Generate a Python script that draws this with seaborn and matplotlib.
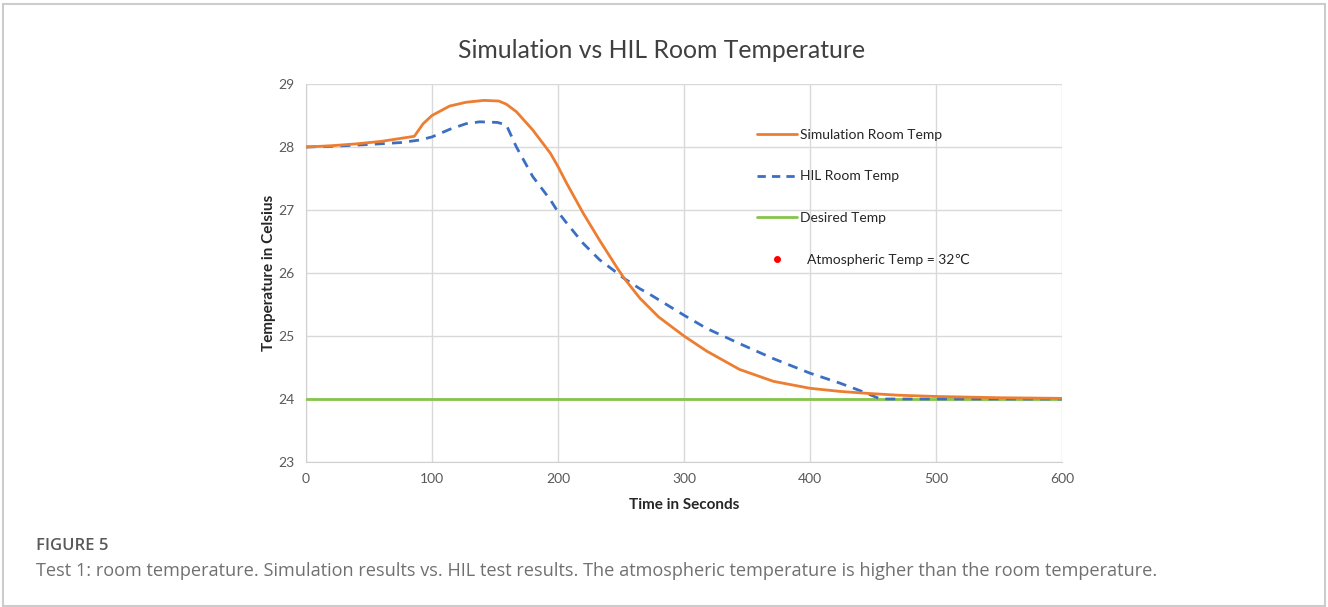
import matplotlib
matplotlib.use("Agg")
import matplotlib.pyplot as plt
import seaborn as sns
import pandas as pd
from matplotlib.lines import Line2D
from matplotlib.patches import Rectangle

# ------------------------------
# Data
# ------------------------------
sim_time = [0, 20, 40, 60, 86, 93, 100, 114, 127, 141, 153, 159, 167, 180, 194, 200, 207,
            220, 233, 247, 252, 265, 280, 300, 318, 344, 371, 400, 424, 445, 470, 500, 550, 600]
sim_temp = [28.0, 28.02, 28.05, 28.09, 28.17, 28.37, 28.5, 28.65, 28.71, 28.74, 28.73, 28.68,
            28.56, 28.27, 27.9, 27.69, 27.42, 26.95, 26.52, 26.08, 25.93, 25.6, 25.3, 25.0,
            24.76, 24.47, 24.28, 24.17, 24.12, 24.09, 24.06, 24.04, 24.02, 24.01]

hil_time = [0, 20, 50, 75, 90, 100, 114, 127, 138, 152, 159, 167, 180, 194, 200, 207, 220,
            233, 247, 252, 265, 273, 300, 318, 344, 371, 400, 424, 440, 456, 500, 600]
hil_temp = [28.0, 28.01, 28.04, 28.07, 28.11, 28.16, 28.28, 28.37, 28.4, 28.39, 28.35, 28.0,
            27.53, 27.16, 26.97, 26.79, 26.47, 26.21, 26.0, 25.92, 25.75, 25.66, 25.33, 25.12,
            24.88, 24.64, 24.41, 24.25, 24.13, 24.0, 24.0, 24.0]

desired_time = [0, 600]
desired_temp = [24, 24]

x_ticks = [0, 100, 200, 300, 400, 500, 600]
y_ticks = [23, 24, 25, 26, 27, 28, 29]

orange = "#ED7D31"
blue = "#3A6FC4"
green = "#86C44A"

sns.set_style("white")
plt.rcParams["font.family"] = ["Lato", "DejaVu Sans"]

fig = plt.figure(figsize=(13.28, 6.07), dpi=100)
ax = fig.add_axes([0.2304, 0.2389, 0.5693, 0.6227])

sim_df = pd.DataFrame({"t": sim_time, "temp": sim_temp})
hil_df = pd.DataFrame({"t": hil_time, "temp": hil_temp})
des_df = pd.DataFrame({"t": desired_time, "temp": desired_temp})

sns.lineplot(data=des_df, x="t", y="temp", ax=ax, color=green, linewidth=2.0, zorder=3)
sns.lineplot(data=hil_df, x="t", y="temp", ax=ax, color=blue, linewidth=2.0,
             linestyle=(0, (3.6, 2.6)), zorder=4)
sns.lineplot(data=sim_df, x="t", y="temp", ax=ax, color=orange, linewidth=2.0, zorder=5)

ax.set_xlim(0, 600)
ax.set_ylim(23, 29)
ax.set_xticks(x_ticks)
ax.set_yticks(y_ticks)
ax.tick_params(axis="both", labelsize=10, colors="#595959", length=0, pad=8)
ax.grid(True, color="#D9D9D9", linewidth=1.0)
for side in ["top", "right"]:
    ax.spines[side].set_visible(False)
for side in ["left", "bottom"]:
    ax.spines[side].set_color("#D0D0D0")

ax.set_xlabel("Time in Seconds", fontsize=11, fontweight="bold", labelpad=9)
ax.set_ylabel("Temperature in Celsius", fontsize=11, fontweight="bold", labelpad=2)

handles = [
    Line2D([], [], color=orange, linewidth=2.0),
    Line2D([], [], color=blue, linewidth=2.0, linestyle=(0, (3.0, 2.2))),
    Line2D([], [], color=green, linewidth=2.0),
    Line2D([], [], color="red", linestyle="none", marker="o", markersize=4),
]
labels = ["Simulation Room Temp", "HIL Room Temp", "Desired Temp", "  Atmospheric Temp = 32\u2103"]
ax.legend(handles, labels, loc="upper left", bbox_to_anchor=(0.58, 0.915), frameon=False,
          fontsize=10, handlelength=2.9, handletextpad=0.2, labelspacing=2.15)

fig.text(0.4985, 0.917, "Simulation vs HIL Room Temperature", ha="center", va="center",
         fontsize=17.8, color="#404040")
fig.text(0.027, 0.101, "FIGURE 5", ha="left", va="center", fontsize=12,
         fontweight="semibold", family=["Open Sans", "DejaVu Sans"], color="#595959")
fig.text(0.027, 0.059, "Test 1: room temperature. Simulation results vs. HIL test results. "
         "The atmospheric temperature is higher than the room temperature.",
         ha="left", va="center", fontsize=13.1, family=["Open Sans", "DejaVu Sans"],
         color="#707070")

fig.patches.append(Rectangle((0.002, 0.002), 0.996, 0.991, transform=fig.transFigure,
                             fill=False, edgecolor="#CCCCCC", linewidth=1.5))

fig.savefig("out.png", dpi=100)
